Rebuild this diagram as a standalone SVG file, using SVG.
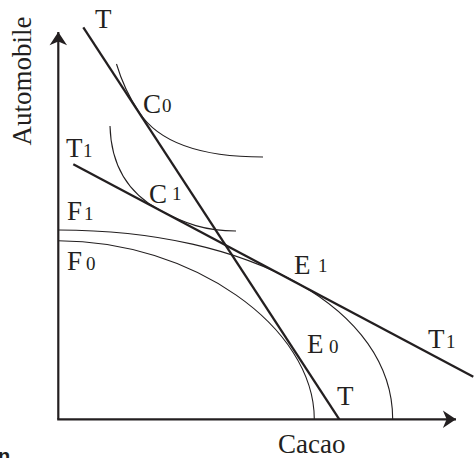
<svg xmlns="http://www.w3.org/2000/svg" width="475" height="458" viewBox="0 0 475 458">
  <style>
    .axis { stroke: #231f20; stroke-width: 2.2; fill: none; }
    .budget { stroke: #231f20; stroke-width: 2.3; fill: none; stroke-linecap: butt; }
    .curve { stroke: #231f20; stroke-width: 1.1; fill: none; }
    .lbl { font-family: "Liberation Serif", "Times New Roman", serif; font-size: 27px; fill: #231f20; }
    .sub { font-size: 19px; }
  </style>
  <defs>
    <marker id="arrow" markerUnits="userSpaceOnUse" markerWidth="20" markerHeight="20" refX="0" refY="0" viewBox="-12 -8 14 16" orient="auto">
      <path d="M0,0 L-10.5,-7 L-7.5,0 L-10.5,7 Z" fill="#231f20"/>
    </marker>
  </defs>
  <rect width="475" height="458" fill="#ffffff"/>

  <g id="axes">
    <path class="axis" d="M58.3,419.3 L58.3,32" marker-end="url(#arrow)"/>
    <path class="axis" d="M57.2,419.3 L456,419.3" marker-end="url(#arrow)"/>
  </g>

  <g id="connectors">
    <g id="frontier-F0"><path class="curve" d="M58.3,240.7 C191.4,240.7 314.3,326.4 314.3,419.3"/></g>
    <g id="frontier-F1"><path class="curve" d="M58.3,230 C252.3,230 392.7,309.5 392.7,419.3"/></g>
    <g id="indiff-C0"><path class="curve" d="M116.5,64 Q124.2,90 139,112 C160,144.7 205,157 263,157"/></g>
    <g id="indiff-C1"><path class="curve" d="M110,126 C111,165 128,193.3 160,210.3 C185,223.6 205,231 236,231"/></g>
    <g id="line-T"><path class="budget" d="M83.3,27.3 L339.3,419.3"/></g>
    <g id="line-T1"><path class="budget" d="M73.3,164.3 L473.3,376.7"/></g>
  </g>

  <g id="labels">
    <text class="lbl" transform="translate(31,81) rotate(-90)" text-anchor="middle" font-size="25">Automobile</text>
    <text class="lbl" x="278" y="453">Cacao</text>
    <g id="label-T-top"><text class="lbl" x="95" y="28">T</text></g>
    <g id="label-C0"><text class="lbl" x="143" y="113">C<tspan class="sub" x="162" y="112">0</tspan></text></g>
    <g id="label-T1-left"><text class="lbl" x="66" y="157">T<tspan class="sub" x="83" y="157">1</tspan></text></g>
    <g id="label-C1"><text class="lbl" x="149" y="203">C<tspan class="sub" x="172" y="200">1</tspan></text></g>
    <g id="label-F1"><text class="lbl" x="67" y="220">F<tspan class="sub" x="84" y="220">1</tspan></text></g>
    <g id="label-F0"><text class="lbl" x="67" y="270">F<tspan class="sub" x="86" y="270">0</tspan></text></g>
    <g id="label-E1"><text class="lbl" x="294" y="274">E<tspan class="sub" x="318" y="272">1</tspan></text></g>
    <g id="label-E0"><text class="lbl" x="307" y="353">E<tspan class="sub" x="329" y="353">0</tspan></text></g>
    <g id="label-T-bottom"><text class="lbl" x="337" y="405">T</text></g>
    <g id="label-T1-right"><text class="lbl" x="428" y="348">T<tspan class="sub" x="446" y="348">1</tspan></text></g>
    <text x="-2" y="463" font-family="Liberation Sans, Arial, sans-serif" font-weight="bold" font-size="20" fill="#231f20">n</text>
  </g>
</svg>
